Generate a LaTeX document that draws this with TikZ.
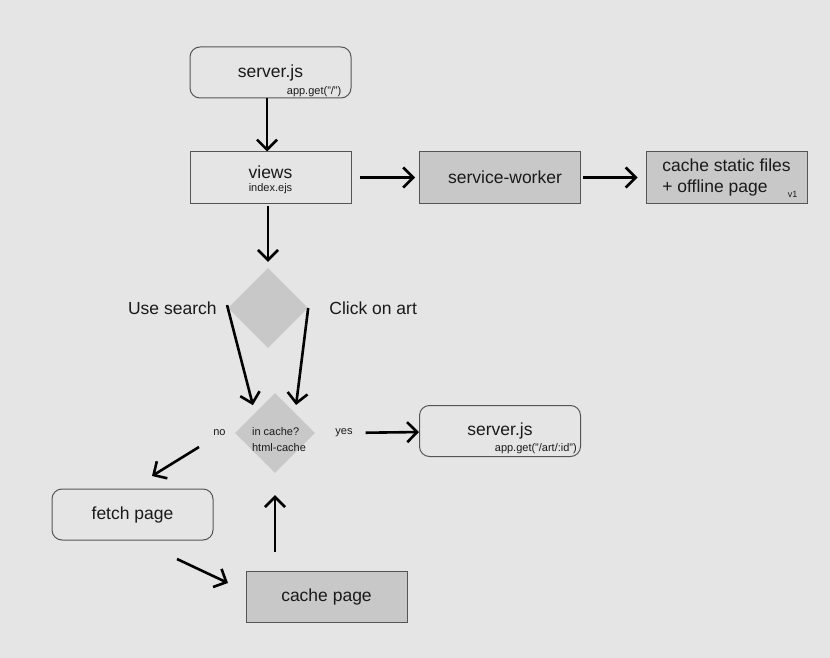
\documentclass[tikz,border=0pt]{standalone}
\usepackage{fontspec}
\setmainfont{Liberation Sans}
\usetikzlibrary{shapes.geometric,arrows.meta,positioning}
\definecolor{bg}{HTML}{E5E5E5}
\definecolor{boxgray}{HTML}{C8C8C8}
\definecolor{edge}{HTML}{555555}
\definecolor{ink}{HTML}{1A1A1A}

\begin{document}
\begin{tikzpicture}[x=1pt,y=-1pt,
  box/.style={draw=edge, line width=1pt, minimum width=161pt, minimum height=51pt, inner sep=0pt, text=ink, font=\fontsize{17.5}{21}\selectfont},
  roundbox/.style={box, rounded corners=10pt, fill=bg},
  flatbox/.style={box, fill=bg},
  graybox/.style={box, fill=boxgray},
  choice/.style={diamond, fill=boxgray, minimum width=80pt, minimum height=80pt, inner sep=0pt},
  bigtxt/.style={text=ink, font=\fontsize{17.5}{21}\selectfont, inner sep=1pt},
  smalltxt/.style={text=ink, font=\fontsize{11}{16}\selectfont, inner sep=1pt},
  arr/.style={-{Straight Barb[length=10pt,width=20pt]}, line width=2.6pt, draw=black},
]
\fill[bg] (0,0) rectangle (830,658);

% Nodes
\node[roundbox] (srv) at (270.5,72.5) {server.js};
\node[smalltxt, anchor=south east] (srvcall) at ([xshift=-9pt,yshift=1pt]srv.south east) {app.get("/")};

\node[flatbox] (views) at (270.5,177.5) {};
\node[bigtxt] (viewsname) at ([yshift=5pt]views.center) {views};
\node[smalltxt] (viewsfile) at ([yshift=-11pt]views.center) {index.ejs};

\node[graybox] (sw) at (500,177.5) {\hspace*{10pt}service-worker};
\node[graybox, align=left] (csf) at (726.5,177.5) {cache static files\\+ offline page};
\node[smalltxt, font=\fontsize{9}{10}\selectfont, anchor=south east] (csfver) at ([xshift=-9pt,yshift=5pt]csf.south east) {v1};

\node[choice] (d1) at (268,308) {};
\node[bigtxt, anchor=east] (search) at ([xshift=-10pt]d1.west) {Use search};
\node[bigtxt, anchor=west] (click) at ([xshift=20pt]d1.east) {Click on art};

\node[choice] (d2) at (275,433) {};
\node[smalltxt, align=left] (incache) at (279,440) {in cache?\\html-cache};
\node[smalltxt, anchor=east] (no) at ([xshift=-8pt]d2.west) {no};
\node[smalltxt, anchor=west] (yes) at ([xshift=19pt]d2.east) {yes};

\node[roundbox] (srv2) at (500,431) {server.js};
\node[smalltxt, anchor=south east] (srv2call) at ([xshift=-3pt,yshift=2pt]srv2.south east) {app.get("/art/:id")};

\node[roundbox] (fetch) at (132.5,514.5) {fetch page};
\node[graybox] (cache) at (326.5,596.5) {cache page};

\coordinate (noA) at (199,447);
\coordinate (noB) at (152,476);
\coordinate (fetchA) at (177,559);
\coordinate (cacheB) at (228,583);

% Arrows
\draw[arr] ([xshift=-3.5pt]srv.south) -- ([xshift=-3.5pt]views.north);
\draw[arr, shorten <=2pt, shorten >=6pt] (views.south -| d1.north) -- (d1.north);
\draw[arr, shorten <=8pt, shorten >=4pt] (views) -- (sw);
\draw[arr, shorten <=2pt, shorten >=8pt] (sw) -- (csf);
\draw[arr, shorten <=-3pt, shorten >=8pt] (d1.west) -- (d2.north west);
\draw[arr, shorten >=8pt] (d1.east) -- (d2.north east);
\draw[arr, shorten <=12pt] (yes) -- (srv2);
\draw[arr] (noA) -- (noB);
\draw[arr] (fetchA) -- (cacheB);
\draw[arr, shorten <=19pt, shorten >=22pt] (d2.south |- cache.north) -- (d2.south);
\end{tikzpicture}
\end{document}
